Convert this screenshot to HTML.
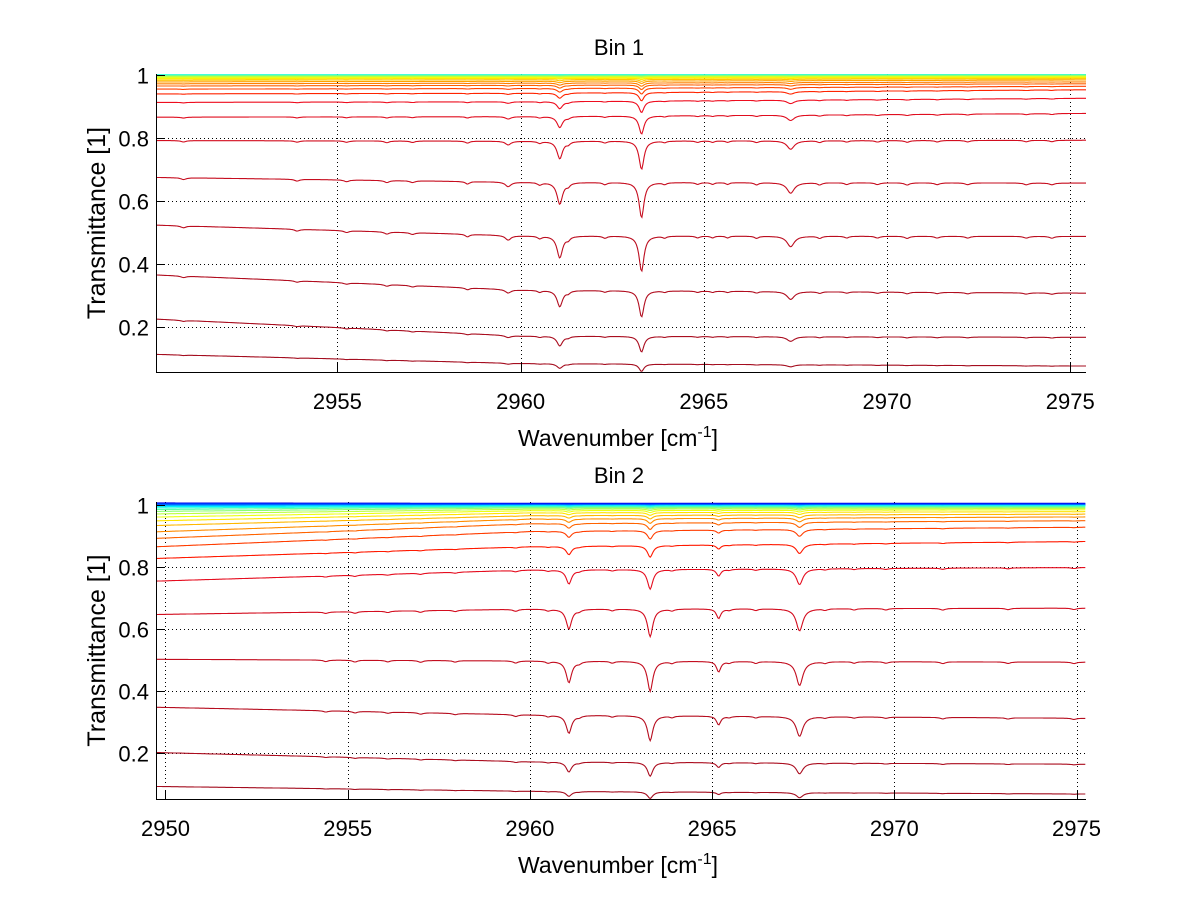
<!DOCTYPE html>
<html><head><meta charset="utf-8"><style>
html,body{margin:0;padding:0;background:#fff;}
svg{display:block;font-family:"Liberation Sans",Arial,sans-serif;}
</style></head><body>
<svg id="fig" width="1200" height="901" viewBox="0 0 1200 901" xmlns="http://www.w3.org/2000/svg"></svg>
<script>
// ---------- DATA ----------
const baseX = [2950, 2960, 2975.4];
// Bin 1
const top_baseL = [0.114,0.226,0.366,0.524,0.675,0.792,0.866,0.913,0.94,0.955,0.965,0.972,0.978,0.983,0.987,0.99,0.993,0.995,0.997,0.998,0.999,1.0];
const top_baseM = [0.085,0.172,0.318,0.49,0.66,0.79,0.868,0.915,0.942,0.957,0.967,0.974,0.98,0.985,0.989,0.992,0.994,0.996,0.997,0.998,0.999,1.0];
const top_baseR = [0.077,0.168,0.308,0.488,0.657,0.793,0.878,0.926,0.953,0.964,0.972,0.978,0.984,0.988,0.991,0.993,0.995,0.997,0.998,0.999,1.0,1.0];
const top_depth = [0.28,0.29,0.265,0.23,0.17,0.114,0.066,0.04,0.028,0.02,0.015,0.011,0.008,0.006,0.004,0.003,0.002,0.0015,0.001,0.0006,0.0003,0];
const top_linePos = [2961.07,2963.30,2967.37,2959.66,2958.55,2960.52,2961.3,2962.3,2963.93,2964.83,2965.24,2965.65,2966.44,2968.16,2968.9,2950.8,2953.9,2955.25,2956.35,2957.05,2969.74,2970.55,2971.37,2972.2,2973.8,2974.5];
const top_lineStr = [0.62,1.0,0.3,0.13,0.07,0.07,0.08,0.06,0.05,0.05,0.05,0.05,0.06,0.06,0.05,0.05,0.05,0.05,0.06,0.05,0.05,0.06,0.05,0.05,0.05,0.05];
const top_lineWid = [0.09,0.08,0.12,0.09,0.07,0.07,0.06,0.07,0.06,0.07,0.06,0.06,0.07,0.07,0.07,0.08,0.08,0.08,0.08,0.08,0.08,0.08,0.08,0.08,0.08,0.08];
// Bin 2
const bot_baseL = [0.093,0.202,0.348,0.503,0.648,0.756,0.829,0.867,0.894,0.915,0.935,0.95,0.962,0.972,0.98,0.986,0.991,0.995,0.998,1.0,1.003,1.005,1.006];
const bot_baseM = [0.078,0.173,0.324,0.498,0.665,0.791,0.866,0.915,0.94,0.955,0.966,0.975,0.982,0.987,0.991,0.994,0.996,0.998,0.999,1.0,1.002,1.004,1.005];
const bot_baseR = [0.069,0.165,0.313,0.494,0.668,0.799,0.883,0.929,0.95,0.962,0.971,0.979,0.985,0.989,0.992,0.995,0.997,0.998,0.999,1.0,1.002,1.004,1.005];
const bot_depth = [0.28,0.26,0.25,0.195,0.134,0.08,0.043,0.03,0.022,0.016,0.012,0.009,0.007,0.005,0.004,0.003,0.002,0.0015,0.001,0.0005,0.0002,0,0];
const bot_linePos = [2961.07,2963.30,2967.40,2965.18,2959.61,2960.5,2961.35,2962.26,2963.9,2965.47,2966.2,2968.1,2968.9,2954.4,2955.2,2956.1,2957.0,2957.95,2969.77,2971.33,2973.12,2974.93];
const bot_lineStr = [0.72,1.0,0.8,0.35,0.07,0.06,0.06,0.06,0.06,0.05,0.06,0.05,0.05,0.05,0.06,0.05,0.06,0.05,0.05,0.06,0.05,0.05];
const bot_lineWid = [0.09,0.09,0.11,0.07,0.08,0.07,0.07,0.07,0.07,0.07,0.07,0.07,0.07,0.08,0.08,0.08,0.08,0.08,0.08,0.08,0.08,0.08];
const xTicks = [2950,2955,2960,2965,2970,2975];
const yTicks = [0.2,0.4,0.6,0.8,1];
const yTickLabels = ['0.2','0.4','0.6','0.8','1'];

// ---------- RENDER ----------
const NS='http://www.w3.org/2000/svg';
const svg=document.getElementById('fig');
function mk(tag,attrs,parent){const e=document.createElementNS(NS,tag);for(const k in attrs)e.setAttribute(k,attrs[k]);(parent||svg).appendChild(e);return e;}
function jet(t){const c=v=>Math.max(0,Math.min(1,v));let r=c(1.5-Math.abs(4*t-3)),g=c(1.5-Math.abs(4*t-2)),b=c(1.5-Math.abs(4*t-1));
  if(t>0.86){r=0.95-(t-0.86)*2.2;g=0.05;b=0.12;}
  return `rgb(${Math.round(r*255)},${Math.round(g*255)},${Math.round(b*255)})`;}
function interp(xs,ys,x){if(x<=xs[1]){const f=(x-xs[0])/(xs[1]-xs[0]);return ys[0]+f*(ys[1]-ys[0]);}const f=(x-xs[1])/(xs[2]-xs[1]);return ys[1]+f*(ys[2]-ys[1]);}

function panel(cfg){
  const g=mk('g',{});
  
  
  const L=156,R=1086,T=cfg.top,B=cfg.bottom;
  const sx=v=>L+(v-cfg.x0)/(cfg.x1-cfg.x0)*(R-L);
  const sy=v=>B-(v-cfg.y0)/(cfg.y1-cfg.y0)*(B-T);
  const grid=mk('g',{stroke:'#000','stroke-width':1,'stroke-dasharray':'1,3'},g);
  
  
  xTicks.forEach(v=>{if(v<cfg.x0||v>cfg.x1)return;const x=Math.round(sx(v))+0.5;mk('line',{x1:x,x2:x,y1:T,y2:B},grid);});
  yTicks.forEach(v=>{if(v<cfg.y0||v>cfg.y1)return;const y=Math.round(sy(v))+0.5;mk('line',{x1:L,x2:R,y1:y,y2:y},grid);});
  const cg=mk('g',{fill:'none','stroke-width':1.1},g);
  
  
  const n=cfg.baseL.length;
  for(let i=n-1;i>=0;i--){
    const t=cfg.tHi-(cfg.tHi-cfg.tLo)*Math.pow(i/(n-1),1.4);
    let d='';
    for(let x=cfg.x0;x<=cfg.x1+1e-9;x+=0.03){
      const b=interp(baseX,[cfg.baseL[i],cfg.baseM[i],cfg.baseR[i]],x);
      let s=0;
      for(let k=0;k<cfg.pos.length;k++){const w=cfg.wid[k];const dx=x-cfg.pos[k];s+=cfg.str[k]*w*w/(dx*dx+w*w);}
      const v=b*(1-cfg.depth[i]*s);
      let y=sy(v);y=Math.max(T,Math.min(B,y));
      d+=(d?'L':'M')+sx(x).toFixed(1)+','+y.toFixed(1);
    }
    const p=mk('path',{d:d,stroke:jet(t),'stroke-width':i>=n-3?1.6:1.1},cg);
    
    
  }
  const ax=mk('g',{stroke:'#000','stroke-width':1},g);
  
  
  mk('line',{x1:L+0.5,x2:L+0.5,y1:T,y2:B+0.5},ax);
  mk('line',{x1:L,x2:R,y1:B+0.5,y2:B+0.5},ax);
  xTicks.forEach(v=>{if(v<cfg.x0||v>cfg.x1)return;const x=Math.round(sx(v))+0.5;mk('line',{x1:x,x2:x,y1:B,y2:B-9},ax);
    const tl=mk('text',{x:sx(v),y:B+37,'text-anchor':'middle','font-size':22,fill:'#000',stroke:'none'},g);tl.textContent=String(v);
    
    });
  yTicks.forEach((v,j)=>{if(v<cfg.y0||v>cfg.y1+0.005)return;const y=Math.round(sy(Math.min(v,cfg.y1)))+0.5;mk('line',{x1:L,x2:L+9,y1:y,y2:y},ax);
    const tl=mk('text',{x:149,y:y+8,'text-anchor':'end','font-size':22,fill:'#000'},g);tl.textContent=yTickLabels[j];
    
    });
  const ti=mk('text',{x:619,y:T-19,'text-anchor':'middle','font-size':22,fill:'#000'},g);ti.textContent=cfg.title;
  
  
  const xl=mk('text',{x:618,y:B+74,'text-anchor':'middle','font-size':23,fill:'#000'},g);
  
  
  xl.innerHTML='Wavenumber [cm<tspan dy="-9" font-size="16">-1</tspan><tspan dy="9">]</tspan>';
  const yl=mk('text',{x:0,y:0,'text-anchor':'middle','font-size':25,fill:'#000',transform:`translate(105,${(T+B)/2}) rotate(-90)`},g);
  yl.textContent='Transmittance [1]';
  
  
}

panel({name:'bin-1-panel',title:'Bin 1',top:74,bottom:372,x0:2950.05,x1:2975.43,y0:0.058,y1:1.003,
  baseL:top_baseL,baseM:top_baseM,baseR:top_baseR,depth:top_depth,pos:top_linePos,str:top_lineStr,wid:top_lineWid,tHi:1.0,tLo:0.38});
panel({name:'bin-2-panel',title:'Bin 2',top:502,bottom:799,x0:2949.74,x1:2975.26,y0:0.053,y1:1.01,
  baseL:bot_baseL,baseM:bot_baseM,baseR:bot_baseR,depth:bot_depth,pos:bot_linePos,str:bot_lineStr,wid:bot_lineWid,tHi:1.0,tLo:0.08});
</script>
</body></html>
